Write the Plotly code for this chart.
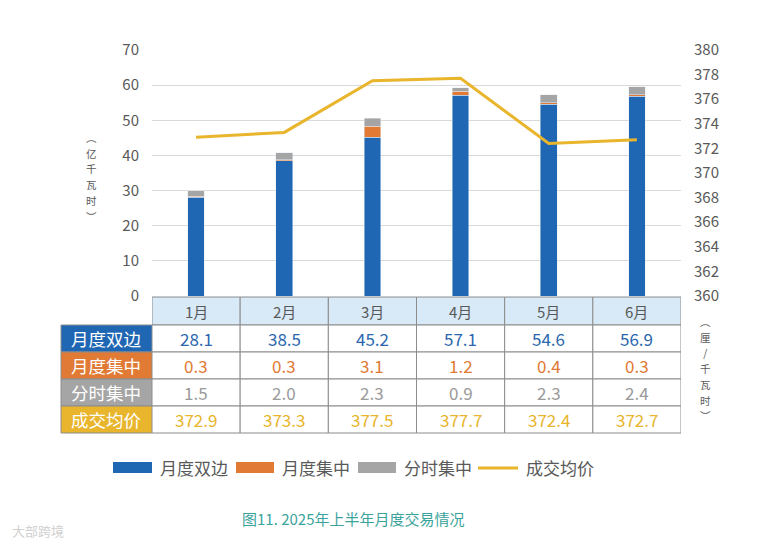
import plotly.graph_objects as go

months = ["1月", "2月", "3月", "4月", "5月", "6月"]
bilateral = [28.1, 38.5, 45.2, 57.1, 54.6, 56.9]
monthly_central = [0.3, 0.3, 3.1, 1.2, 0.4, 0.3]
timeshare_central = [1.5, 2.0, 2.3, 0.9, 2.3, 2.4]
avg_price = [372.9, 373.3, 377.5, 377.7, 372.4, 372.7]
series_names = ["月度双边", "月度集中", "分时集中", "成交均价"]
left_ticks = list(range(0, 71, 10))
right_ticks = list(range(360, 381, 2))
left_title = ["︵", "亿", "千", "瓦", "时", "︶"]
right_title = ["︵", "厘", "/", "千", "瓦", "时", "︶"]
caption = "图11. 2025年上半年月度交易情况"

C_BLUE = "#1f66b3"
C_ORANGE = "#e07a34"
C_GRAY = "#a5a5a5"
C_GOLD = "#e8b52c"
TXT = "#595959"
FONT = "Noto Sans CJK SC"

OFF = 8  # page body margin
W, H = 776 - OFF, 548 - OFF
L, R, T, B = 152 - OFF, 681 - OFF, 50 - OFF, 296 - OFF


def px(x):
    return (x - OFF - L) / (R - L)


def py(y):
    return (B - (y - OFF)) / (B - T)


fig = go.Figure()
fig.add_trace(go.Bar(x=months, y=bilateral, name=series_names[0], marker_color=C_BLUE, width=0.19))
fig.add_trace(go.Bar(x=months, y=monthly_central, name=series_names[1], marker_color=C_ORANGE, width=0.19))
fig.add_trace(go.Bar(x=months, y=timeshare_central, name=series_names[2], marker_color=C_GRAY, width=0.19))
fig.add_trace(go.Scatter(x=months, y=avg_price, name=series_names[3], yaxis="y2", mode="lines",
                         line=dict(color=C_GOLD, width=3)))

shapes = []
annotations = []


def note(x, y, text, size, color, xref="paper", xanchor="center", angle=0):
    annotations.append(dict(xref=xref, yref="paper", x=x, y=y, text=text, showarrow=False,
                            xanchor=xanchor, yanchor="middle", textangle=angle,
                            font=dict(size=size, color=color)))


# table header
row_edges = [297, 325, 352, 379, 406, 433]
for i, m in enumerate(months):
    shapes.append(dict(type="rect", xref="x", yref="paper", x0=i - 0.5, x1=i + 0.5,
                       y0=py(row_edges[0]), y1=py(row_edges[1]), fillcolor="#d8e9f7",
                       line=dict(color="#8c8c8c", width=1), layer="above"))
    note(m, py((row_edges[0] + row_edges[1]) / 2), m, 15, TXT, xref="x")

rows = [bilateral, monthly_central, timeshare_central, avg_price]
row_bg = [C_BLUE, C_ORANGE, C_GRAY, C_GOLD]
row_txt = ["#2a67ae", "#e07a34", "#9a9a9a", "#e8b52c"]
for r, vals in enumerate(rows):
    y0, y1 = row_edges[r + 1], row_edges[r + 2]
    yc = py((y0 + y1) / 2)
    shapes.append(dict(type="rect", xref="paper", yref="paper", x0=px(61), x1=px(152),
                       y0=py(y0), y1=py(y1), fillcolor=row_bg[r],
                       line=dict(color="#8c8c8c", width=1), layer="above"))
    note(px(106), yc, series_names[r], 17.5, "white")
    for i, v in enumerate(vals):
        shapes.append(dict(type="rect", xref="x", yref="paper", x0=i - 0.5, x1=i + 0.5,
                           y0=py(y0), y1=py(y1), fillcolor="white",
                           line=dict(color="#8c8c8c", width=1), layer="above"))
        note(months[i], yc, f"{v:.1f}", 17, row_txt[r], xref="x")


# axis titles: vertical text in one annotation
def vtext(chars, size):
    return "<br>".join(f"<span style='font-size:{size}px'>{c}</span>" for c in chars)


note(px(91), py(177), vtext(left_title, 10.5), 12.1, TXT)
note(px(705), py(368), vtext(right_title, 10.5), 12.1, TXT)

# custom legend
leg = [(113, 152, C_BLUE, "bar"), (236, 274, C_ORANGE, "bar"), (358, 396, C_GRAY, "bar"),
       (478, 518, C_GOLD, "line")]
for (x0, x1, col, kind), name in zip(leg, series_names):
    if kind == "bar":
        shapes.append(dict(type="rect", xref="paper", yref="paper", x0=px(x0), x1=px(x1),
                           y0=py(462), y1=py(473), fillcolor=col, line=dict(width=0)))
    else:
        shapes.append(dict(type="line", xref="paper", yref="paper", x0=px(x0), x1=px(x1),
                           y0=py(468), y1=py(468), line=dict(color=col, width=3)))
    note(px(x1 + 6), py(467), name, 17, TXT, xanchor="left")

note(px(353), py(518), caption, 15, "#3aa49c")
note(px(10), py(530), "大部跨境", 13, "#d0d0d0", xanchor="left")

fig.update_layout(
    width=W, height=H,
    margin=dict(l=L, r=W - R, t=T, b=H - B, pad=0),
    paper_bgcolor="white", plot_bgcolor="white",
    font=dict(family=FONT, color=TXT),
    barmode="stack", bargap=0.8, showlegend=False,
    xaxis=dict(type="category", range=[-0.5, 5.5], showticklabels=False, showgrid=False,
               showline=False, zeroline=False, ticks=""),
    yaxis=dict(range=[0, 70], tickvals=left_ticks, showgrid=True, gridcolor="#d9d9d9", gridwidth=1,
               zeroline=False, showline=False, ticks="", ticklabelstandoff=12,
               tickfont=dict(size=15, color=TXT)),
    yaxis2=dict(range=[360, 380], tickvals=right_ticks, overlaying="y", side="right", showgrid=False,
                zeroline=False, showline=False, ticks="", ticklabelstandoff=12,
                tickfont=dict(size=15, color=TXT)),
    shapes=shapes, annotations=annotations,
)

fig.write_html("out.html")
